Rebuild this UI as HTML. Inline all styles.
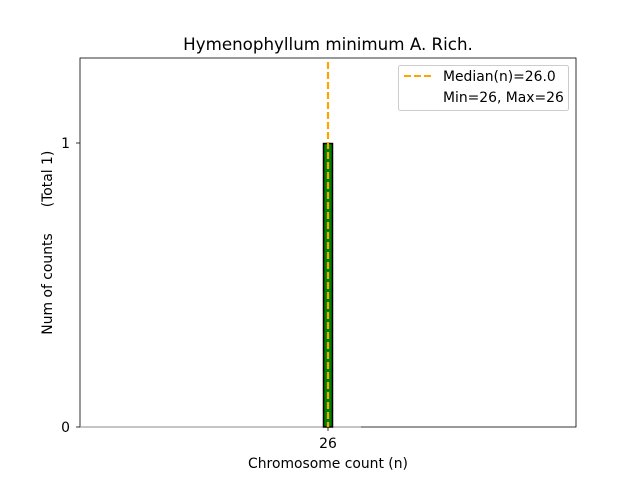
<!DOCTYPE html>
<html><head><style>body{margin:0;background:#fff}svg{display:block}text{font-family:"DejaVu Sans","Liberation Sans",sans-serif;fill:#000}</style></head><body>
<svg width="640" height="480" viewBox="0 0 640 480">
<rect x="80" y="58" width="496" height="369" fill="none" stroke="#000" stroke-width="0.8"/>
<line x1="80" y1="427" x2="361" y2="427" stroke="#888" stroke-width="1"/>
<rect x="323.5" y="143.5" width="9" height="283.5" fill="#008000" stroke="#000" stroke-width="1.5"/>
<line x1="328" y1="62" x2="328" y2="427" stroke="#ffa500" stroke-width="2.2" stroke-dasharray="7,3"/>
<line x1="80" y1="427" x2="76" y2="427" stroke="#000" stroke-width="0.8"/>
<line x1="80" y1="143" x2="76" y2="143" stroke="#000" stroke-width="0.8"/>
<line x1="328" y1="427" x2="328" y2="431" stroke="#000" stroke-width="0.8"/>
<text x="70" y="432" font-size="13.9" text-anchor="end">0</text>
<text x="70" y="148" font-size="13.9" text-anchor="end">1</text>
<text x="328" y="448" font-size="13.9" text-anchor="middle">26</text>
<text x="328" y="468" font-size="13.9" text-anchor="middle">Chromosome count (n)</text>
<text x="328" y="50" font-size="16.7" text-anchor="middle">Hymenophyllum minimum A. Rich.</text>
<text transform="translate(52,284) rotate(-90)" font-size="13.9" text-anchor="middle">Num of counts</text>
<text transform="translate(52,179) rotate(-90)" font-size="13.9" text-anchor="middle">(Total 1)</text>
<rect x="398.5" y="65.5" width="170" height="45" rx="2" fill="#fff" fill-opacity="0.8" stroke="#ccc" stroke-width="1"/>
<line x1="404" y1="76" x2="432" y2="76" stroke="#ffa500" stroke-width="2" stroke-dasharray="7,3"/>
<text x="443" y="81" font-size="13.9">Median(n)=26.0</text>
<text x="443" y="102" font-size="13.9">Min=26, Max=26</text>
</svg>
</body></html>
